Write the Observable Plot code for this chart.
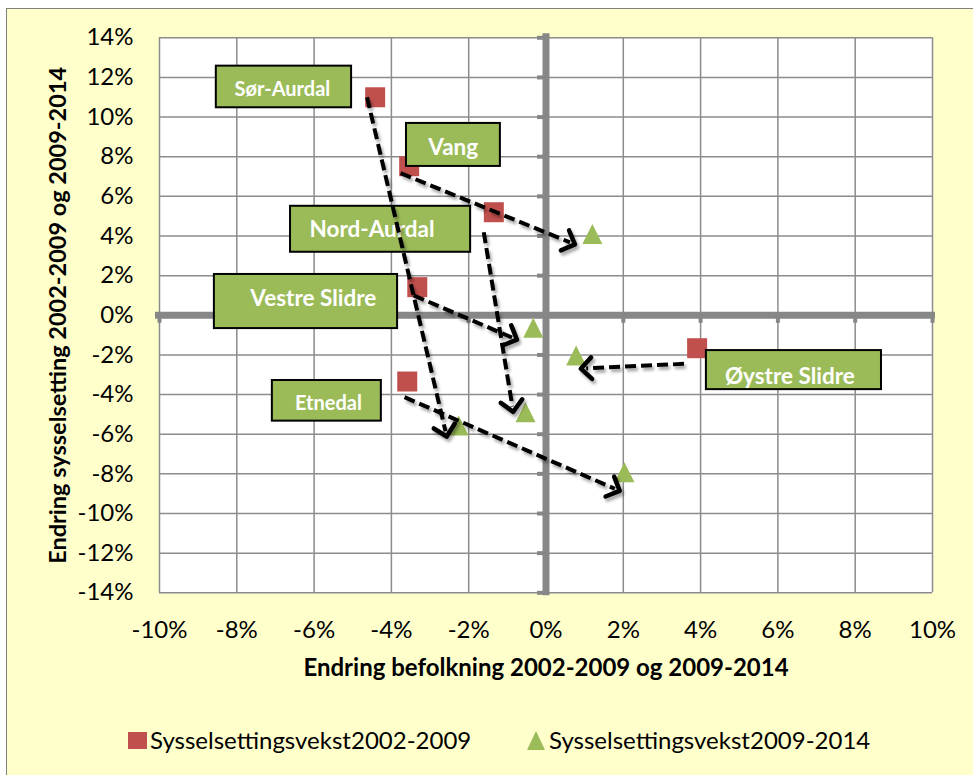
<!DOCTYPE html>
<html>
<head>
<meta charset="utf-8">
<script src="https://cdn.jsdelivr.net/npm/d3@7"></script>
<script src="https://cdn.jsdelivr.net/npm/@observablehq/plot@0.6"></script>
<style>
html, body { margin: 0; padding: 0; background: #ffffff; width: 973px; height: 775px; overflow: hidden; font-family: Lato, sans-serif; }
#panel { position: absolute; left: 6px; top: 8px; width: 990px; height: 790px; background: #ffffcc; border-left: 1.5px solid #7f7f7f; border-top: 1.5px solid #7f7f7f; }
#chart { position: absolute; left: 0; top: 0; }
#chart svg { overflow: visible; }
g[aria-label="link"] { filter: drop-shadow(2px 3px 1.5px rgba(0,0,0,0.35)); }
.leg { position: absolute; font-family: Lato, sans-serif; font-size: 24px; color: #000; line-height: 1; white-space: nowrap; }
</style>
</head>
<body>
<div id="panel"></div>
<div id="chart"></div>
<div id="legend"></div>
<script>
// ---- data (percent) ----
const municipalities = ["Sør-Aurdal", "Vang", "Nord-Aurdal", "Vestre Slidre", "Etnedal", "Øystre Slidre"];
const popChange0209 = [-4.42, -3.54, -1.35, -3.33, -3.59, 3.91];
const empChange0209 = [11.0, 7.52, 5.2, 1.42, -3.34, -1.66];
const popChange0914 = [-2.26, 1.20, -0.53, -0.33, 2.03, 0.78];
const empChange0914 = [-5.56, 4.1, -4.89, -0.63, -7.92, -2.03];

// arrows (data units)
const arrowX1 = [-4.63, -3.76, -1.61, -3.42, -3.66, 3.57];
const arrowY1 = [11.0, 7.17, 4.19, 1.0, -4.13, -2.45];
const arrowX2 = [-2.6, 0.62, -0.87, -0.88, 1.78, 1.04];
const arrowY2 = [-5.85, 3.68, -4.6, -1.12, -8.75, -2.68];

// label boxes (data units)
const labelX1 = [-8.53, -3.61, -6.61, -8.58, -7.08, 4.15];
const labelX2 = [-5.03, -1.18, -1.95, -3.84, -4.26, 8.68];
const labelY1 = [12.57, 9.68, 5.50, 2.06, -3.29, -1.78];
const labelY2 = [10.47, 7.51, 3.18, -0.67, -5.34, -3.75];
const labelTextX = [-6.82, -2.40, -4.50, -6.02, -5.63, 6.31];
const labelTextY = [11.39, 8.43, 4.33, 0.85, -4.45, -3.09];

const xTicks = [-10, -8, -6, -4, -2, 0, 2, 4, 6, 8, 10];
const yTicks = [-14, -12, -10, -8, -6, -4, -2, 0, 2, 4, 6, 8, 10, 12, 14];

const seriesNames = ["Sysselsettingsvekst2002-2009", "Sysselsettingsvekst2009-2014"];
const xTitle = "Endring befolkning 2002-2009 og 2009-2014";
const yTitle = "Endring sysselsetting 2002-2009 og 2009-2014";

// ---- build tables ----
const rows = municipalities.map((name, i) => ({
  name, p0: popChange0209[i], e0: empChange0209[i], p1: popChange0914[i], e1: empChange0914[i],
  ax1: arrowX1[i], ay1: arrowY1[i], ax2: arrowX2[i], ay2: arrowY2[i],
  lx1: labelX1[i], lx2: labelX2[i], ly1: labelY1[i], ly2: labelY2[i], tx: labelTextX[i], ty: labelTextY[i]
}));
const smallLabels = new Set(["Sør-Aurdal", "Etnedal"]);

const RED = "#c0504d", GREEN = "#9bbb59", GRID = "#8c8c8c", AXIS = "#878787";

const squareSym = { draw(ctx, size) { const r = Math.sqrt(size / Math.PI); ctx.rect(-r, -r, 2 * r, 2 * r); } };
const triSym = { draw(ctx, size) { const r = Math.sqrt(size / Math.PI); ctx.moveTo(0, -r); ctx.lineTo(r, r); ctx.lineTo(-r, r); ctx.closePath(); } };

const plot = Plot.plot({
  width: 973,
  height: 700,
  marginLeft: 159,
  marginRight: 41,
  marginTop: 37.3,
  marginBottom: 107.7,
  style: { background: "transparent", fontFamily: "Lato, sans-serif", fontSize: "24px", color: "#000", overflow: "visible" },
  x: { domain: [-10, 10], ticks: xTicks, tickFormat: d => d + "%", tickSize: 0, tickPadding: 28, label: null },
  y: { domain: [-14, 14], ticks: yTicks, tickFormat: d => d + "%", tickSize: 0, tickPadding: 26, label: null },
  marks: [
    Plot.frame({ fill: "white", stroke: "none" }),
    Plot.ruleX(xTicks, { stroke: GRID, strokeWidth: 1.5 }),
    Plot.ruleY(yTicks, { stroke: GRID, strokeWidth: 1.5 }),
    Plot.ruleX([0], { stroke: AXIS, strokeWidth: 7, insetTop: -4, insetBottom: -3 }),
    Plot.ruleY([0], { stroke: AXIS, strokeWidth: 7, insetLeft: -4, insetRight: -3 }),
    Plot.ruleY(yTicks, { y: d => d, x1: () => 0, x2: () => 0, insetLeft: -8.5, stroke: AXIS, strokeWidth: 4 }),
    Plot.ruleX(xTicks, { x: d => d, y1: () => 0, y2: () => 0, insetBottom: -8, stroke: AXIS, strokeWidth: 4 }),
    Plot.dot(rows, { x: "p0", y: "e0", symbol: squareSym, r: 10, fill: RED, stroke: "none" }),
    Plot.dot(rows, { x: "p1", y: "e1", symbol: triSym, r: 10, fill: GREEN, stroke: "none" }),
    Plot.rect(rows, { x1: "lx1", x2: "lx2", y1: "ly1", y2: "ly2", fill: GREEN, stroke: "#000", strokeWidth: 2 }),
    Plot.text(rows, { x: "tx", y: "ty", text: "name", fill: "white", fontWeight: "bold",
      fontSize: d => smallLabels.has(d.name) ? 20 : 22.5, fontFamily: "Lato, sans-serif" }),
    Plot.link(rows, { x1: "ax1", y1: "ay1", x2: "ax2", y2: "ay2", stroke: "#000", strokeWidth: 4,
      strokeDasharray: "11,5", markerEnd: "arrow" }),
    Plot.text([yTitle], { text: d => d, frameAnchor: "left", textAnchor: "middle", lineAnchor: "middle", dx: -101, rotate: -90, fontWeight: "bold",
      fontSize: 23.5, fill: "#000", fontFamily: "Lato, sans-serif" }),
    Plot.text([xTitle], { text: d => d, frameAnchor: "bottom", textAnchor: "middle", lineAnchor: "middle", dy: 76, fontWeight: "bold",
      fontSize: 24, fill: "#000", fontFamily: "Lato, sans-serif" })
  ]
});
plot.querySelectorAll("marker").forEach(m => {
  m.setAttribute("markerWidth", "9");
  m.setAttribute("markerHeight", "9");
  m.setAttribute("stroke-width", "1.25");
});
document.getElementById("chart").appendChild(plot);

// ---- legend (HTML, below the SVG) ----
const legend = document.getElementById("legend");
const legendItems = [
  { name: seriesNames[0], color: RED, shape: "square", left: 128, textLeft: 150 },
  { name: seriesNames[1], color: GREEN, shape: "triangle", left: 527, textLeft: 549 }
];
legendItems.forEach(it => {
  const sw = document.createElement("div");
  sw.style.position = "absolute";
  if (it.shape === "square") {
    Object.assign(sw.style, { left: it.left + "px", top: "732px", width: "19px", height: "17px", background: it.color });
  } else {
    Object.assign(sw.style, { left: it.left + "px", top: "731px", width: "0", height: "0",
      borderLeft: "9.5px solid transparent", borderRight: "9.5px solid transparent", borderBottom: "19px solid " + it.color });
  }
  legend.appendChild(sw);
  const t = document.createElement("div");
  t.className = "leg";
  t.textContent = it.name;
  Object.assign(t.style, { left: it.textLeft + "px", top: "728px" });
  legend.appendChild(t);
});
</script>
</body>
</html>
